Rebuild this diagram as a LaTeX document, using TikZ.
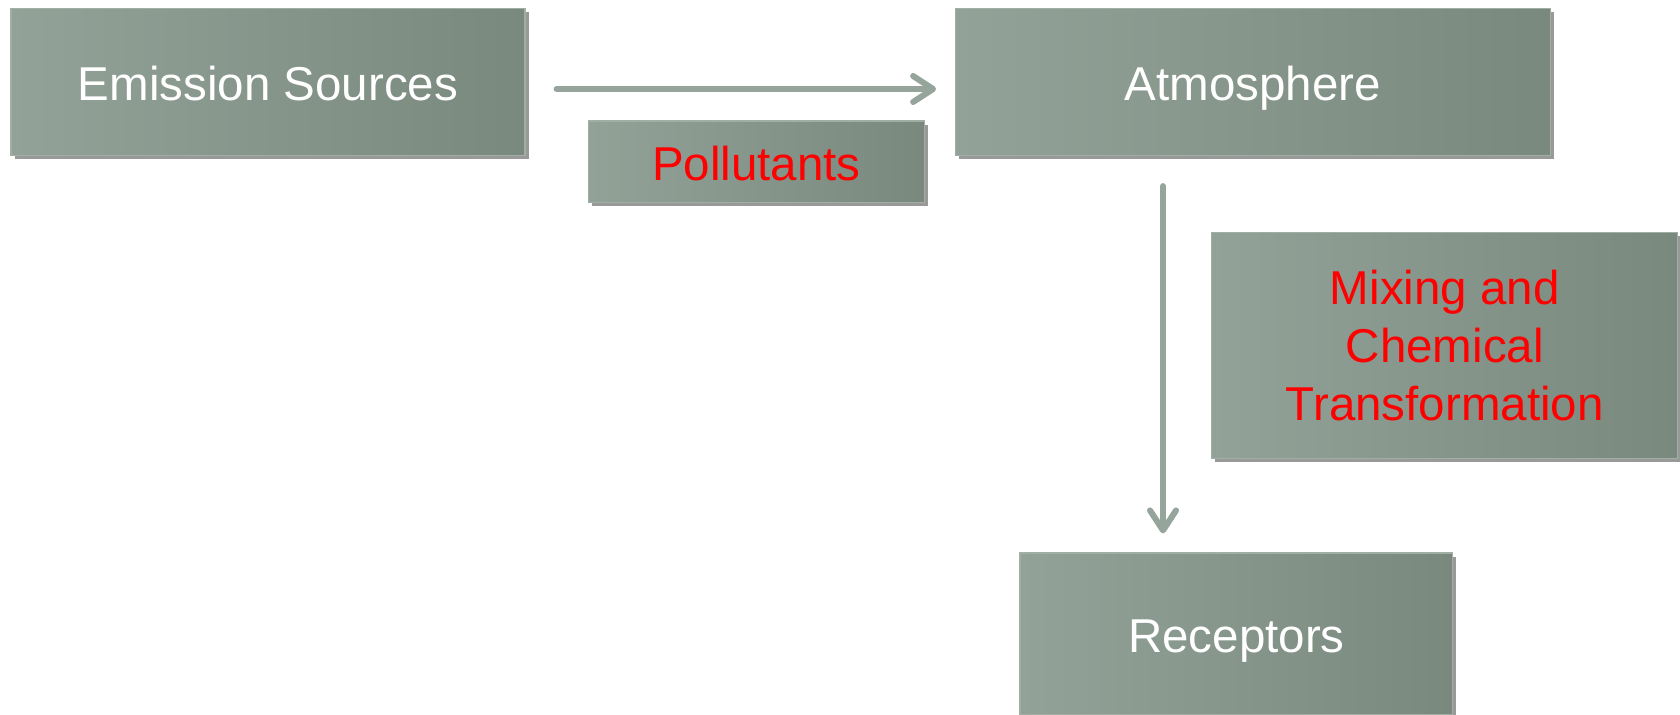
\documentclass[tikz,border=0pt]{standalone}
\usepackage{fontspec}
\setmainfont{Liberation Sans}
\usetikzlibrary{arrows.meta,shadows}
\definecolor{boxL}{RGB}{147,162,152}
\definecolor{boxR}{RGB}{121,137,126}
\definecolor{boxEdge}{RGB}{160,174,164}
\definecolor{arrC}{RGB}{149,165,155}
\definecolor{redT}{RGB}{255,0,0}
\tikzset{
  box/.style={rectangle, inner sep=0pt, left color=boxL, right color=boxR,
    draw=boxEdge, line width=0.6pt,
    drop shadow={shadow xshift=1.8pt, shadow yshift=-1.8pt, opacity=0.4, fill=black},
    font=\fontsize{23.75}{29}\selectfont, align=center},
  oneline/.style={text height=18.8pt, text depth=0pt},
  whitetxt/.style={text=white},
  redtxt/.style={text=redT},
  arr/.style={draw=arrC, line width=3pt, line cap=round,
    -{Straight Barb[length=10pt,width=13pt,round]}}
}
\begin{document}
\begin{tikzpicture}[x=0.5pt,y=-0.5pt]
\useasboundingbox (0,0) rectangle (1680,714);
\node[box, oneline, whitetxt, minimum width=257pt, minimum height=73.5pt] (es) at (268,82) {Emission Sources};
\node[box, oneline, redtxt, minimum width=168.2pt, minimum height=40.75pt] (pol) at (756.4,161.8) {Pollutants};
\node[box, oneline, whitetxt, minimum width=297.3pt, minimum height=73.5pt] (atm) at (1253,82) {Atmosphere};
\node[box, redtxt, minimum width=233pt, minimum height=113pt] (mix) at (1444.8,345.5) {Mixing and\\Chemical\\Transformation};
\node[box, oneline, whitetxt, minimum width=216.4pt, minimum height=81pt] (rec) at (1236.4,634) {Receptors};
\draw[arr] ([xshift=15.5pt,yshift=-3.5pt]es.east) -- ([xshift=-9.5pt,yshift=-3.5pt]atm.west);
\draw[arr] ([xshift=-45pt,yshift=-15pt]atm.south) -- ([xshift=-36.7pt,yshift=9.5pt]rec.north);
\end{tikzpicture}
\end{document}
